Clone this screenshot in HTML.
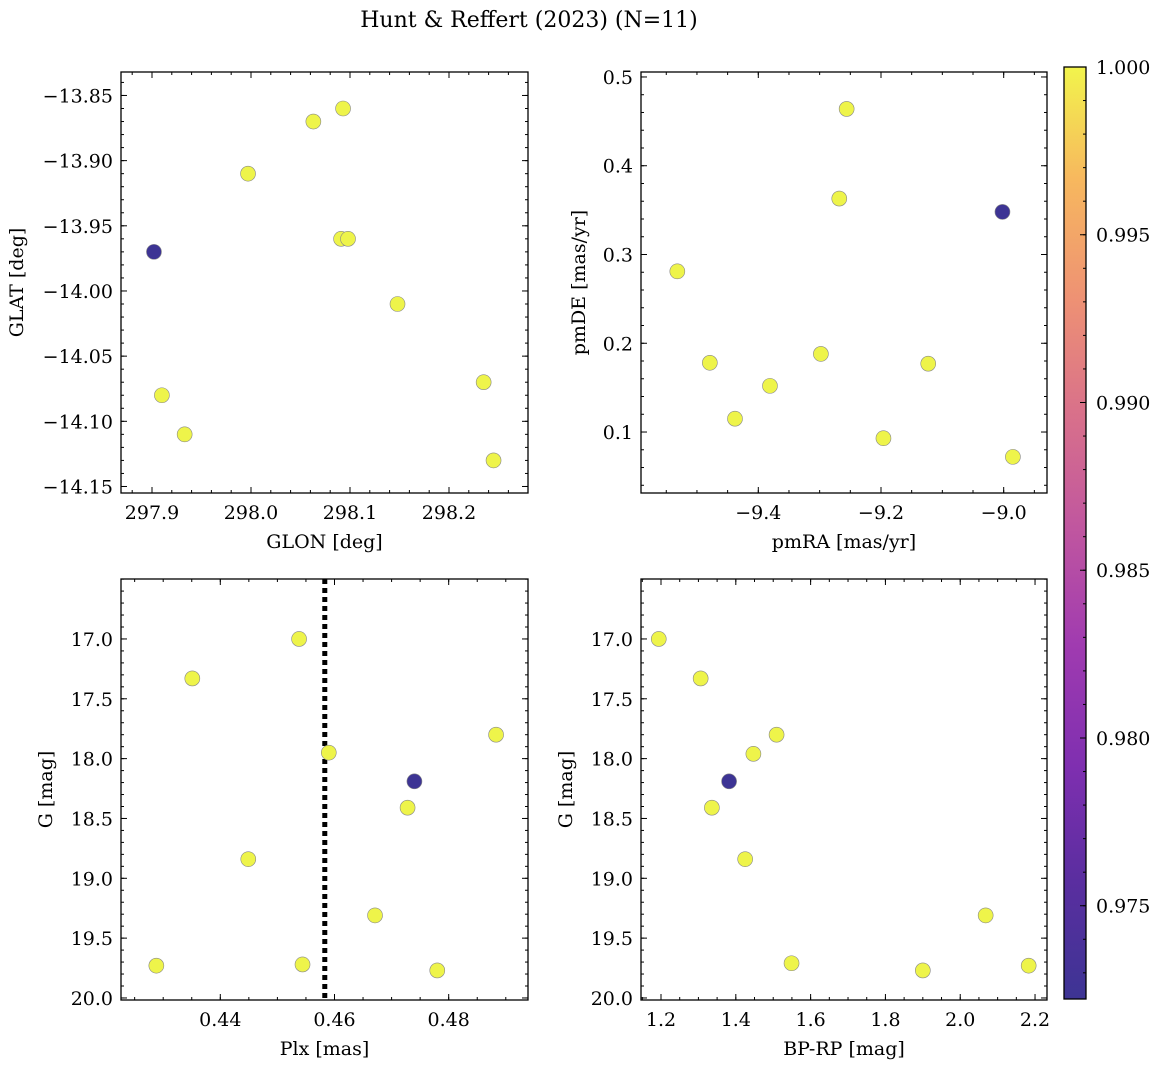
<!DOCTYPE html>
<html><head><meta charset="utf-8"><style>
body{margin:0;background:#fff;}
svg text{font-family:"DejaVu Serif","Liberation Serif",serif;fill:#000;}
</style></head><body>
<svg id="fig" width="1161" height="1067" xmlns="http://www.w3.org/2000/svg">
<defs><linearGradient id="plasma" x1="0" y1="1" x2="0" y2="0">
<stop offset="0" stop-color="#3d3494"/><stop offset="0.13" stop-color="#5b2ea0"/><stop offset="0.25" stop-color="#7f2fb0"/><stop offset="0.38" stop-color="#a03bb0"/><stop offset="0.5" stop-color="#bf55a0"/><stop offset="0.63" stop-color="#d9718a"/><stop offset="0.75" stop-color="#ee9174"/><stop offset="0.88" stop-color="#f7b85e"/><stop offset="1" stop-color="#f2f44c"/></linearGradient></defs>
<text x="529" y="27" font-size="22" text-anchor="middle">Hunt &amp; Reffert (2023) (N=11)</text>
</svg>
<script>
// data
const glon=[297.902,297.910,297.933,297.997,298.063,298.093,298.091,298.098,298.148,298.235,298.245];
const glat=[-13.97,-14.08,-14.11,-13.91,-13.87,-13.86,-13.96,-13.96,-14.01,-14.07,-14.13];
const glatProb=[0.972,1,1,1,1,1,1,1,1,1,1];
const pmra=[-9.532,-9.479,-9.438,-9.381,-9.298,-9.268,-9.256,-9.196,-9.123,-9.002,-8.985];
const pmde=[0.281,0.178,0.115,0.152,0.188,0.363,0.464,0.093,0.177,0.348,0.072];
const pmProb=[1,1,1,1,1,1,1,1,1,0.972,1];
const plx=[0.4288,0.4351,0.4449,0.4538,0.4544,0.4590,0.4671,0.4728,0.4740,0.4780,0.4883];
const gmagP=[19.73,17.33,18.84,17.00,19.72,17.95,19.31,18.41,18.19,19.77,17.80];
const plxProb=[1,1,1,1,1,1,1,1,0.972,1,1];
const plxMean=0.4583;
const bprp=[1.194,1.306,1.336,1.382,1.425,1.447,1.509,1.549,1.900,2.068,2.183];
const gmagC=[17.00,17.33,18.41,18.19,18.84,17.96,17.80,19.71,19.77,19.31,19.73];
const cmdProb=[1,1,1,0.972,1,1,1,1,1,1,1];
const cbTicks=[0.975,0.980,0.985,0.990,0.995,1.000];

const NS="http://www.w3.org/2000/svg";
const svg=document.getElementById('fig');
function mk(t,a,p){const e=document.createElementNS(NS,t);for(const k in a)e.setAttribute(k,a[k]);(p||svg).appendChild(e);return e;}
function fmt(v,d){let s=v.toFixed(d);return s.replace('-','\u2212');}
function color(p){return p<0.99?'#3d3494':'#eef44a';}
const FS=19;

function panel(name,box,xr,yr,xt,xmin,yt,ymin,xd,yd,xl,yl,xs,ys,ps,vline){
  const [L,T,R,B]=box;
  const g=mk('g',{});
  
  
  const sx=v=>L+(v-xr[0])/(xr[1]-xr[0])*(R-L);
  const sy=v=>T+(v-yr[0])/(yr[1]-yr[0])*(B-T);
  const fr=mk('rect',{x:L,y:T,width:R-L,height:B-T,fill:'none',stroke:'#000','stroke-width':1.3},g);
  
  
  const lo=Math.min(xr[0],xr[1]),hi=Math.max(xr[0],xr[1]);
  for(let v=Math.ceil(lo/xmin)*xmin;v<=hi;v+=xmin){const x=sx(v);mk('line',{x1:x,x2:x,y1:B,y2:B-3,stroke:'#000'},g);mk('line',{x1:x,x2:x,y1:T,y2:T+3,stroke:'#000'},g);}
  const ylo=Math.min(yr[0],yr[1]),yhi=Math.max(yr[0],yr[1]);
  for(let v=Math.ceil(ylo/ymin)*ymin;v<=yhi;v+=ymin){const y=sy(v);mk('line',{x1:L,x2:L+3,y1:y,y2:y,stroke:'#000'},g);mk('line',{x1:R,x2:R-3,y1:y,y2:y,stroke:'#000'},g);}
  xt.forEach(v=>{const x=sx(v);mk('line',{x1:x,x2:x,y1:B,y2:B-6,stroke:'#000'},g);mk('line',{x1:x,x2:x,y1:T,y2:T+6,stroke:'#000'},g);
    const t=mk('text',{x:x,y:B+26,'font-size':FS,'text-anchor':'middle'},g);t.textContent=fmt(v,xd);
    });
  yt.forEach(v=>{const y=sy(v);mk('line',{x1:L,x2:L+6,y1:y,y2:y,stroke:'#000'},g);mk('line',{x1:R,x2:R-6,y1:y,y2:y,stroke:'#000'},g);
    const t=mk('text',{x:L-8,y:y+7,'font-size':FS,'text-anchor':'end'},g);t.textContent=fmt(v,yd);
    });
  const xt2=mk('text',{x:(L+R)/2,y:B+55,'font-size':FS,'text-anchor':'middle'},g);xt2.textContent=xl;
  
  const yx=yl[1];
  const yt2=mk('text',{x:yx,y:(T+B)/2,'font-size':FS,'text-anchor':'middle',transform:`rotate(-90 ${yx} ${(T+B)/2})`},g);yt2.textContent=yl[0];
  
  if(vline!==undefined){const l=mk('line',{x1:sx(vline),x2:sx(vline),y1:T,y2:B,stroke:'#000','stroke-width':5,'stroke-dasharray':'5,4'},g);
    }
  xs.forEach((v,i)=>{const c=mk('circle',{cx:sx(v),cy:sy(ys[i]),r:7.5,fill:color(ps[i]),stroke:'#888','stroke-width':0.6},g);
    });
}
panel('glon-glat-panel',[121,72,528,493],[297.8687,298.2798],[-13.832,-14.155],[297.9,298.0,298.1,298.2],0.02,[-13.85,-13.9,-13.95,-14.0,-14.05,-14.1,-14.15],0.01,1,2,'GLON [deg]',['GLAT [deg]',23],glon,glat,glatProb);
panel('pm-panel',[641,72,1047,493],[-9.5912,-8.9294],[0.5056,0.0313],[-9.4,-9.2,-9.0],0.05,[0.1,0.2,0.3,0.4,0.5],0.02,1,1,'pmRA [mas/yr]',['pmDE [mas/yr]',585],pmra,pmde,pmProb);
panel('plx-g-panel',[121,579,528,1000],[0.42261,0.49389],[16.499,20.017],[0.44,0.46,0.48],0.005,[17,17.5,18,18.5,19,19.5,20],0.1,2,1,'Plx [mas]',['G [mag]',52],plx,gmagP,plxProb,plxMean);
panel('cmd-panel',[641,579,1047,1000],[1.1465,2.232],[16.499,20.017],[1.2,1.4,1.6,1.8,2.0,2.2],0.05,[17,17.5,18,18.5,19,19.5,20],0.1,1,1,'BP-RP [mag]',['G [mag]',572],bprp,gmagC,cmdProb);

// colorbar
const cb=mk('g',{});


const cT=67,cB=999,cL=1064,cR=1086,v0=0.97222,v1=1.0;
mk('rect',{x:cL,y:cT,width:cR-cL,height:cB-cT,fill:'url(#plasma)',stroke:'#000','stroke-width':1.3},cb);
const cy=v=>cB-(v-v0)/(v1-v0)*(cB-cT);
for(let v=0.973;v<=1.0001;v+=0.001){const y=cy(v);mk('line',{x1:cR,x2:cR-3,y1:y,y2:y,stroke:'#000'},cb);}
cbTicks.forEach(v=>{const y=cy(v);mk('line',{x1:cR,x2:cR-6,y1:y,y2:y,stroke:'#000'},cb);
  const t=mk('text',{x:cR+10,y:y+7,'font-size':FS},cb);t.textContent=v.toFixed(3);
  });
</script>
</body></html>
